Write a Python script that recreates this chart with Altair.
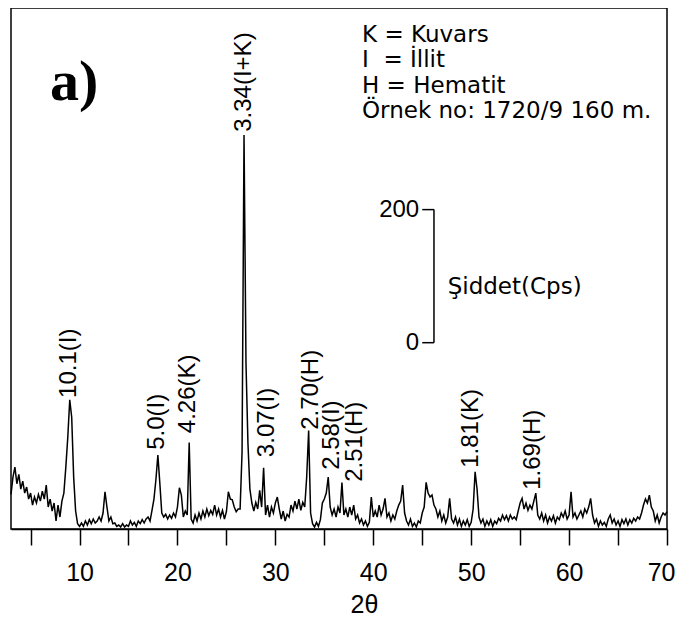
import altair as alt
import pandas as pd

# ---- XRD pattern, 2θ grid from 3.0° to 70.0° in 0.2° steps ----
two_theta_start = 3.0
two_theta_step = 0.2
intensity_cps = [
    52, 78, 93, 68, 82, 60, 72, 54, 63, 45,      # 3.0 - 4.8
    54, 36, 48, 39, 52, 42, 57, 45, 66, 33,      # 5.0 - 6.8
    45, 27, 39, 12, 36, 18, 42, 54, 93, 138,     # 7.0 - 8.8
    194, 168, 78, 27, 8, 4, 9, 4, 12, 6,         # 9.0 - 10.8
    14, 8, 15, 9, 12, 18, 12, 24, 56, 33,        # 11.0 - 12.8
    12, 18, 8, 9, 4, 6, 3, 8, 3, 6,              # 13.0 - 14.8
    4, 12, 6, 10, 4, 12, 8, 14, 9, 15,           # 15.0 - 16.8
    18, 12, 28, 45, 74, 111, 69, 24, 18, 22,     # 17.0 - 18.8
    15, 21, 16, 24, 18, 33, 62, 51, 18, 27,      # 19.0 - 20.8
    21, 130, 15, 9, 21, 12, 24, 15, 27, 18,      # 21.0 - 22.8
    30, 20, 28, 22, 36, 21, 30, 18, 28, 15,      # 23.0 - 24.8
    26, 56, 45, 44, 33, 26, 30, 30, 116, 592,    # 25.0 - 26.8
    249, 129, 60, 39, 27, 40, 30, 58, 33, 92,    # 27.0 - 28.8
    21, 36, 18, 33, 24, 39, 48, 30, 15, 27,      # 29.0 - 30.8
    12, 22, 18, 36, 27, 42, 30, 45, 28, 40,      # 31.0 - 32.8
    33, 78, 148, 24, 8, 3, 10, 4, 14, 39,        # 33.0 - 34.8
    45, 54, 78, 33, 21, 30, 18, 33, 24, 70,      # 35.0 - 36.8
    21, 30, 18, 33, 21, 36, 15, 21, 9, 15,       # 37.0 - 38.8
    6, 12, 4, 10, 48, 18, 27, 18, 36, 21,        # 39.0 - 40.8
    30, 46, 18, 24, 12, 21, 15, 27, 36, 42,      # 41.0 - 42.8
    66, 24, 12, 6, 15, 4, 9, 3, 12, 9,           # 43.0 - 44.8
    24, 33, 70, 54, 48, 51, 36, 30, 18, 27,      # 45.0 - 46.8
    12, 21, 9, 18, 46, 15, 9, 18, 6, 15,         # 47.0 - 48.8
    4, 12, 6, 14, 4, 10, 30, 86, 60, 18,         # 49.0 - 50.8
    9, 15, 4, 12, 6, 14, 4, 12, 8, 16,           # 51.0 - 52.8
    12, 21, 14, 20, 12, 21, 15, 18, 14, 27,      # 53.0 - 54.8
    39, 46, 30, 39, 28, 36, 30, 42, 54, 21,      # 55.0 - 56.8
    15, 24, 12, 21, 9, 18, 12, 20, 9, 18,        # 57.0 - 58.8
    14, 24, 18, 27, 15, 21, 56, 18, 24, 15,      # 59.0 - 60.8
    21, 27, 18, 30, 24, 33, 46, 21, 9, 15,       # 61.0 - 62.8
    4, 12, 6, 10, 4, 15, 21, 9, 15, 6,           # 63.0 - 64.8
    12, 4, 14, 8, 15, 6, 14, 9, 16, 12,          # 65.0 - 66.8
    18, 15, 24, 36, 45, 39, 51, 33, 27, 12,      # 67.0 - 68.8
    21, 9, 18, 24, 21, 26,                       # 69.0 - 70.0
]
two_theta = [round(two_theta_start + two_theta_step * i, 1) for i in range(len(intensity_cps))]

# ---- peak annotations ----
peak_labels = ["10.1(I)", "5.0(I)", "4.26(K)", "3.34(I+K)", "3.07(I)",
               "2.70(H)", "2.58(I)", "2.51(H)", "1.81(K)", "1.69(H)"]
peak_label_2theta = [8.9, 17.9, 21.1, 26.75, 29.1, 33.6, 35.8, 38.1, 50.0, 56.3]
peak_label_cps = [197, 119, 144, 597, 108, 149, 89, 71, 92, 59]

# ---- intensity scale bar (0 - 200 cps) ----
scale_bar_2theta = 46.2
scale_tick_2theta = 45.0
scale_values = [280, 480]
scale_texts = ["0", "200"]
scale_title = "Şiddet(Cps)"

legend_lines = ["K = Kuvars", "I\u00a0\u00a0= İllit", "H = Hematit", "Örnek no: 1720/9 160 m."]
panel_tag = "a)"

x_ticks = list(range(5, 71, 5))

xs = alt.Scale(domain=[3, 70], nice=False, zero=False)
ys = alt.Scale(domain=[0, 783], nice=False, zero=True)

x_axis = alt.Axis(values=x_ticks, format="d",
                  labelExpr="datum.value % 10 === 0 ? datum.label : ''",
                  tickSize=16, tickWidth=1.5, tickColor="black",
                  domainColor="black", domainWidth=1.5, grid=False,
                  labelFont="Liberation Sans", labelFontSize=25,
                  labelColor="black", labelBaseline="alphabetic", labelPadding=35,
                  labelFlush=True, labelFlushOffset=8, labelOverlap=False,
                  title="2θ", titleFont="Liberation Sans",
                  titleFontSize=25, titleFontWeight="normal", titleColor="black",
                  titleX=353, titleY=83, titleBaseline="alphabetic", titleAlign="center")


def xenc():
    return alt.X("two_theta:Q", scale=xs, axis=x_axis)


def yenc():
    return alt.Y("cps:Q", scale=ys, axis=None)


spec_df = pd.DataFrame({"two_theta": two_theta, "cps": intensity_cps})
lab_df = pd.DataFrame({"two_theta": peak_label_2theta, "cps": peak_label_cps, "label": peak_labels})

line = alt.Chart(spec_df).mark_line(color="black", strokeWidth=1.5).encode(x=xenc(), y=yenc())

labels = alt.Chart(lab_df).mark_text(
    angle=270, align="left", baseline="middle", font="Liberation Sans", fontSize=24, color="black"
).encode(x=xenc(), y=yenc(), text="label:N")

vbar = alt.Chart(pd.DataFrame({"two_theta": [scale_bar_2theta], "cps": [scale_values[0]],
                               "cps2": [scale_values[1]]})).mark_rule(color="black", strokeWidth=1.5).encode(
    x=xenc(), y=yenc(), y2="cps2:Q")
scale_df = pd.DataFrame({"two_theta": [scale_tick_2theta] * 2, "x2": [scale_bar_2theta] * 2,
                         "cps": scale_values, "label": scale_texts})
sticks = alt.Chart(scale_df).mark_rule(color="black", strokeWidth=1.5).encode(
    x=xenc(), x2="x2:Q", y=yenc())
stext = alt.Chart(scale_df).mark_text(
    align="right", baseline="middle", dx=-3, font="Liberation Sans", fontSize=24, color="black"
).encode(x=xenc(), y=yenc(), text="label:N")
stitle = alt.Chart(pd.DataFrame({"two_theta": [47.6], "cps": [364], "label": [scale_title]})).mark_text(
    align="left", baseline="middle", font="DejaVu Sans", fontSize=23, color="black"
).encode(x=xenc(), y=yenc(), text="label:N")

legend_layers = []
legend_y = [33.7, 58.7, 85.3, 110.3]
for txt, yy in zip(legend_lines, legend_y):
    legend_layers.append(
        alt.Chart(pd.DataFrame({"t": [txt]})).mark_text(
            align="left", baseline="alphabetic", font="DejaVu Sans", fontSize=23, color="black"
        ).encode(x=alt.value(351), y=alt.value(yy), text="t:N")
    )

tag = alt.Chart(pd.DataFrame({"t": [panel_tag]})).mark_text(
    align="left", baseline="alphabetic", font="Liberation Serif", fontSize=58,
    fontWeight="bold", color="black"
).encode(x=alt.value(39), y=alt.value(92), text="t:N")

chart = alt.layer(line, labels, vbar, sticks, stext, stitle, tag, *legend_layers).properties(
    width=656, height=521,
    autosize=alt.AutoSizeParams(type="none"),
    padding={"left": 3, "top": 0, "right": 9, "bottom": 94},
    background="white",
).configure_view(stroke="black", strokeWidth=1.5)

chart.save("out.html", embed_options={"renderer": "svg", "actions": False})
